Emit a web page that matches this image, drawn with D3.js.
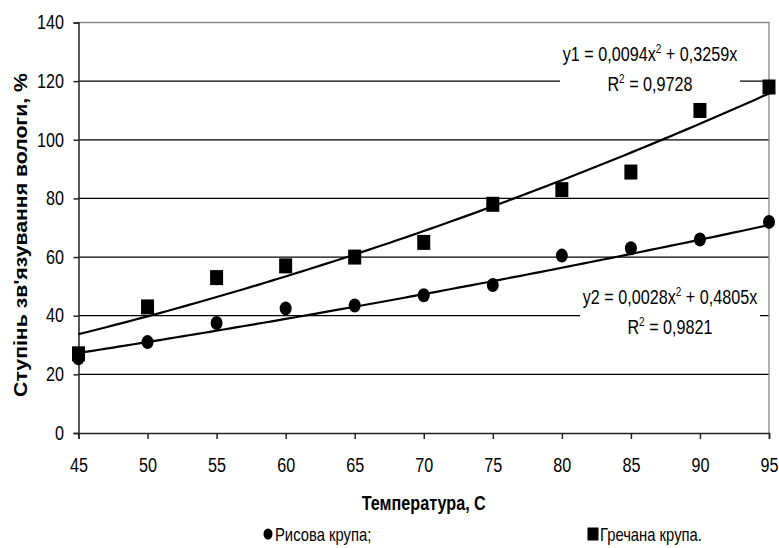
<!DOCTYPE html>
<html>
<head>
<meta charset="utf-8">
<script src="https://cdn.jsdelivr.net/npm/d3@7"></script>
<style>
  body { margin: 0; background: #fff; }
  text { font-family: "Liberation Sans", Arial, sans-serif; fill: #000; }
</style>
</head>
<body>
<div id="myChart"></div>
<script>
let svgW = 779;
let svgH = 548;

// data
const temps = [45, 50, 55, 60, 65, 70, 75, 80, 85, 90, 95];
const rice = [25.5, 31, 37.5, 42.5, 43.5, 47, 50.5, 60.5, 63, 66, 72];
const buckwheat = [27, 43, 53, 57, 60, 65, 78, 83, 89, 110, 118];
const yTicks = [0, 20, 40, 60, 80, 100, 120, 140];
const xTicks = [45, 50, 55, 60, 65, 70, 75, 80, 85, 90, 95];
// trendline coefficients shown on the chart (a*x^2 + b*x)
const trend1 = [0.0094, 0.3259];
const trend2 = [0.0028, 0.4805];
const seriesNames = ["Рисова крупа;", "Гречана крупа."];

const narrow = 0.83; // the chart's text is condensed

let svg = d3.select("#myChart").append("svg");
svg.attr("width", svgW);
svg.attr("height", svgH);

let x = d3.scaleLinear().domain([45, 95]).range([78.5, 769]);
let y = d3.scaleLinear().domain([0, 140]).range([433, 22.5]);

// grid
svg.selectAll(".grid")
  .data(yTicks.filter(d => d > 0 && d < 140))
  .enter()
  .append("line")
  .attr("x1", x(45)).attr("x2", x(95))
  .attr("y1", d => y(d)).attr("y2", d => y(d))
  .style("stroke", "#000")
  .style("stroke-width", 1.3);

// top and right frame
svg.append("path")
  .attr("d", `M${x(45)},${y(140)}H${x(95)}V${y(0)}`)
  .style("fill", "none")
  .style("stroke", "#888")
  .style("stroke-width", 1.3);

// axes
let yAxis = svg.append("g")
  .attr("transform", `translate(${x(45)},0)`)
  .call(d3.axisLeft(y).tickValues(yTicks).tickSize(5).tickPadding(12.5));
let xAxis = svg.append("g")
  .attr("transform", `translate(0,${y(0)})`)
  .call(d3.axisBottom(x).tickValues(xTicks).tickSize(6).tickPadding(19));
[yAxis, xAxis].forEach(a => {
  a.selectAll("path, line").style("stroke", "#222").style("stroke-width", 1.5);
  a.selectAll("text")
    .attr("font-family", null)
    .style("font-size", "19.5px")
    .attr("transform", `scale(${narrow},1)`);
});

// trendlines
let line = d3.line().x(d => x(d[0])).y(d => y(d[1]));
[trend1, trend2].forEach(c => {
  let pts = d3.range(45, 95.01, 0.5).map(t => [t, c[0] * t * t + c[1] * t]);
  svg.append("path")
    .attr("d", line(pts))
    .style("fill", "none")
    .style("stroke", "#000")
    .style("stroke-width", 2.2);
});

// markers
svg.selectAll(".rice")
  .data(temps)
  .enter()
  .append("ellipse")
  .attr("cx", d => x(d))
  .attr("cy", (d, i) => y(rice[i]))
  .attr("rx", 6).attr("ry", 7)
  .attr("fill", "#000");

svg.selectAll(".buck")
  .data(temps)
  .enter()
  .append("rect")
  .attr("x", d => x(d) - 6.5)
  .attr("y", (d, i) => y(buckwheat[i]) - 7.5)
  .attr("width", 13).attr("height", 15)
  .attr("fill", "#000");

// equation labels
function eqLabel(cx, base, name, c, r2) {
  svg.append("rect")
    .attr("x", cx - 90).attr("y", base - 22)
    .attr("width", 180).attr("height", 58)
    .attr("fill", "#fff");
  let g = svg.append("g")
    .attr("transform", `translate(${cx},${base}) scale(${narrow},1)`);
  let t1 = g.append("text")
    .attr("text-anchor", "middle")
    .style("font-size", "19.5px");
  t1.append("tspan").text(name + " = " + String(c[0]).replace(".", ",") + "x");
  t1.append("tspan").attr("dy", -8).style("font-size", "12px").text("2");
  t1.append("tspan").attr("dy", 8).text(" + " + String(c[1]).replace(".", ",") + "x");
  let t2 = g.append("text")
    .attr("y", 30)
    .attr("text-anchor", "middle")
    .style("font-size", "19.5px");
  t2.append("tspan").text("R");
  t2.append("tspan").attr("dy", -8).style("font-size", "12px").text("2");
  t2.append("tspan").attr("dy", 8).text(" = " + r2);
}
eqLabel(650, 61, "y1", trend1, "0,9728");
eqLabel(670, 304, "y2", trend2, "0,9821");

// axis titles
svg.append("text")
  .attr("transform", `translate(27,235) rotate(-90) scale(1.18,1)`)
  .attr("text-anchor", "middle")
  .style("font-weight", "bold")
  .style("font-size", "18px")
  .text("Ступінь зв'язування  вологи, %");

svg.append("text")
  .attr("transform", `translate(${(x(45) + x(95)) / 2},510) scale(${narrow},1)`)
  .attr("text-anchor", "middle")
  .style("font-weight", "bold")
  .style("font-size", "19.5px")
  .text("Температура, C");

// legend
let leg = [
  { cx: 268, name: seriesNames[0], shape: "circle" },
  { cx: 593, name: seriesNames[1], shape: "square" }
];
leg.forEach(l => {
  if (l.shape === "circle") {
    svg.append("ellipse").attr("cx", l.cx).attr("cy", 534).attr("rx", 4.5).attr("ry", 5.5).attr("fill", "#000");
  } else {
    svg.append("rect").attr("x", l.cx - 5.5).attr("y", 527.5).attr("width", 11).attr("height", 13).attr("fill", "#000");
  }
  svg.append("text")
    .attr("transform", `translate(${l.cx + 7},541) scale(0.8,1)`)
    .style("font-size", "18.5px")
    .text(l.name);
});
</script>
</body>
</html>
